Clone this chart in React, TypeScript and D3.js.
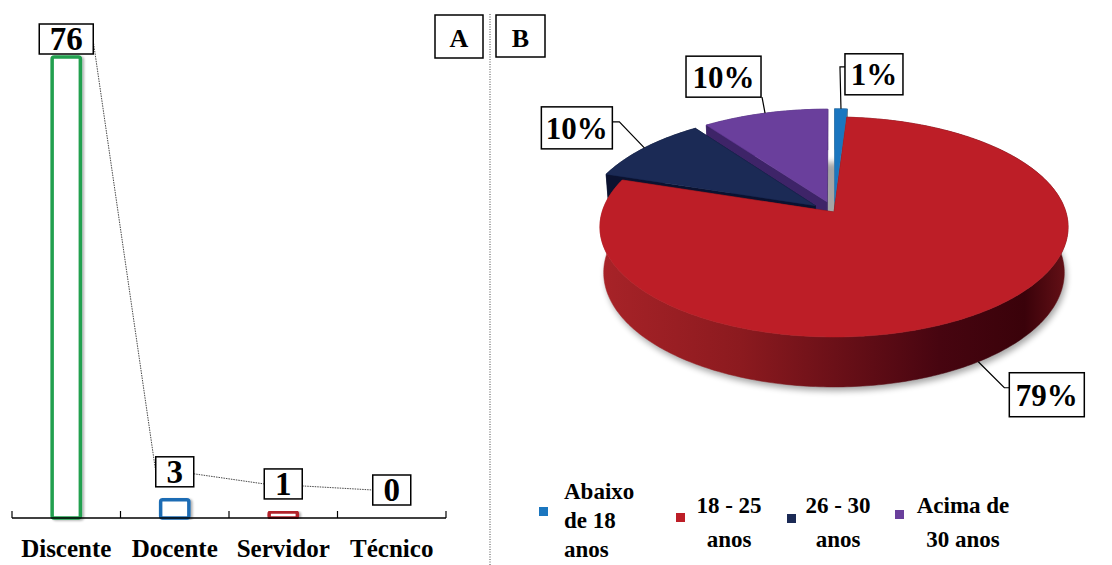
import React from 'react';
import * as d3 from 'd3';

// ---- Panel A: respondents by role ----
const roles = ['Discente', 'Docente', 'Servidor', 'Técnico'];
const roleCounts = [76, 3, 1, 0];
const roleColors = ['#22a04f', '#1f6cb4', '#b3222b', '#7f7f7f'];

// ---- Panel B: respondents by age group (%) ----
const ageGroups = ['Abaixo de 18 anos', '18 - 25 anos', '26 - 30 anos', 'Acima de 30 anos'];
const ageLegendLines = [['Abaixo', 'de 18', 'anos'], ['18 - 25', 'anos'], ['26 - 30', 'anos'], ['Acima de', '30 anos']];
const agePercents = [1, 79, 10, 10];
const ageColors = ['#1b76bf', '#bd1e27', '#1b2a55', '#6a3f9c'];
const ageWallColors = ['#5f7585', '#6e1015', '#0b1230', '#3e2468'];
const ageExplode = [0.1, 0, 0.1, 0.1];

const SERIF = "'Liberation Serif', 'DejaVu Serif', 'Times New Roman', serif";
const txt = { fontFamily: SERIF, fontWeight: 700 } as React.CSSProperties;

// perspective camera for the 3D pie
const PCX = 834;
const PCY = 212;
const F = 1505;
const DIST = 6.49;
const SIN_T = 0.4655;
const COS_T = 0.885;
const THICK = 0.224;

function proj(X: number, Y: number, Z: number): [number, number] {
  const d = DIST + Z * COS_T - Y * SIN_T;
  return [PCX + (F * X) / d, PCY - (F * (Y * COS_T + Z * SIN_T)) / d];
}
function depth(X: number, Y: number, Z: number) {
  return DIST + Z * COS_T - Y * SIN_T;
}
const toPath = (pts: [number, number][]) =>
  'M' + pts.map((p) => `${p[0].toFixed(2)},${p[1].toFixed(2)}`).join('L') + 'Z';

// label box placement relative to each slice's anchor point
const pieLabelLayout = [
  { bottom: false, box: [4, -55, 58, 41], path: [[0, 0], [-1, -42], [4, -42]] },
  { bottom: true, box: [31, 11, 75, 44], path: [[0, 0], [26, 26], [31, 26]] },
  { bottom: false, box: [-103, -41, 71, 42], path: [[0, 0], [-25, -26], [-32, -26]] },
  { bottom: false, box: [-79, -57, 75, 41], path: [[0, 0], [-3, -16]] },
];

// legend layout: swatch position, text anchor and baselines
const legendLayout = [
  { sq: [539, 507], tx: 564, anchor: 'start', ys: [499, 528, 557] },
  { sq: [676, 513], tx: 729, anchor: 'middle', ys: [513, 547] },
  { sq: [787, 514], tx: 838, anchor: 'middle', ys: [513, 547] },
  { sq: [895, 510], tx: 963, anchor: 'middle', ys: [513, 547] },
];

export default function App() {
  // ---------- bar chart ----------
  const x = d3.scaleBand<string>().domain(roles).range([12, 446]).paddingInner(0.74).paddingOuter(0.37);
  const y = d3.scaleLinear().domain([0, d3.max(roleCounts) as number]).range([518, 57]);
  const bw = x.bandwidth();
  const step = x.step();
  const boundaries = d3.range(roles.length + 1).map((i) => 12 + i * step);

  const valueBoxes = roles.map((r, i) => {
    const v = roleCounts[i];
    const label = String(v);
    const w = 16 * label.length + 22;
    const h = 30;
    const cx = (x(r) as number) + bw / 2;
    const top = Math.max(24, y(v) - 43);
    return { label, w, h, cx, top, left: cx - w / 2, right: cx + w / 2, mid: top + h / 2 };
  });

  // ---------- 3D pie ----------
  const arcs = d3.pie<number>().sort(null).value((d) => d)(agePercents);
  const walls: { d: string; fill: string; z: number }[] = [];
  const tops: { d: string; fill: string }[] = [];
  const anchors: [number, number][] = [];

  arcs.forEach((a, i) => {
    const mid = (a.startAngle + a.endAngle) / 2;
    const ox = ageExplode[i] * Math.sin(mid);
    const oz = ageExplode[i] * Math.cos(mid);
    const n = Math.max(3, Math.ceil((a.endAngle - a.startAngle) / 0.015));
    const angs = d3.range(n + 1).map((k) => a.startAngle + ((a.endAngle - a.startAngle) * k) / n);
    const rim = (t: number, Y: number): [number, number] => proj(ox + Math.sin(t), Y, oz + Math.cos(t));

    // outer curved wall
    const outer = [...angs.map((t) => rim(t, 0)), ...angs.slice().reverse().map((t) => rim(t, -THICK))];
    const zOuter = d3.mean(angs, (t) => depth(ox + Math.sin(t), -THICK / 2, oz + Math.cos(t))) as number;
    walls.push({ d: toPath(outer), fill: i === 1 ? 'url(#redSide)' : ageWallColors[i], z: zOuter });

    // radial walls
    [a.startAngle, a.endAngle].forEach((t) => {
      const pts: [number, number][] = [proj(ox, 0, oz), rim(t, 0), rim(t, -THICK), proj(ox, -THICK, oz)];
      const z = depth(ox + Math.sin(t) / 2, -THICK / 2, oz + Math.cos(t) / 2);
      walls.push({ d: toPath(pts), fill: ageWallColors[i], z });
    });

    // top face
    tops.push({ d: toPath([proj(ox, 0, oz), ...angs.map((t) => rim(t, 0))]), fill: ageColors[i] });

    anchors.push(rim(mid, pieLabelLayout[i].bottom ? -THICK : 0));
  });
  walls.sort((p, q) => q.z - p.z);

  const shadow = toPath(d3.range(0, 361, 2).map((deg) => {
    const t = (deg * Math.PI) / 180;
    return proj(Math.sin(t), -THICK, Math.cos(t));
  }));

  return (
    <svg width={1112} height={565} style={{ position: 'absolute', left: 0, top: 0, background: '#fff' }}>
      <defs>
        <filter id="barShadow" x="-50%" y="-10%" width="200%" height="120%">
          <feDropShadow dx="2" dy="1" stdDeviation="1.2" floodColor="#000" floodOpacity="0.3" />
        </filter>
        <filter id="pieShadow" x="-10%" y="-10%" width="120%" height="130%">
          <feGaussianBlur stdDeviation="3" />
        </filter>
        <linearGradient id="redSide" gradientUnits="userSpaceOnUse" x1={598} x2={1072} y1={0} y2={0}>
          <stop offset="0" stopColor="#a82328" />
          <stop offset="0.3" stopColor="#8c1a1f" />
          <stop offset="0.72" stopColor="#470510" />
          <stop offset="0.9" stopColor="#3a020a" />
          <stop offset="1" stopColor="#6a1218" />
        </linearGradient>
      </defs>

      {/* ---------- Panel A ---------- */}
      <g>
        {roles.map((r, i) =>
          roleCounts[i] > 0 ? (
            <rect
              key={r}
              x={x(r)}
              y={y(roleCounts[i])}
              width={bw}
              height={y(0) - y(roleCounts[i])}
              rx={2}
              fill="#fff"
              stroke={roleColors[i]}
              strokeWidth={3.5}
              filter="url(#barShadow)"
            />
          ) : null
        )}

        {/* category axis */}
        <line x1={boundaries[0]} x2={boundaries[boundaries.length - 1]} y1={y(0)} y2={y(0)} stroke="#000" strokeWidth={1.5} />
        {boundaries.map((bx, i) => (
          <line key={i} x1={bx} x2={bx} y1={y(0)} y2={y(0) - 7} stroke="#000" strokeWidth={1.2} />
        ))}
        {roles.map((r) => (
          <text key={r} x={(x(r) as number) + bw / 2} y={557} textAnchor="middle" style={{ ...txt, fontSize: 25 }}>
            {r}
          </text>
        ))}

        {/* leader lines between value labels */}
        {valueBoxes.slice(0, -1).map((b, i) => {
          const nb = valueBoxes[i + 1];
          return (
            <line key={i} x1={b.right} y1={b.mid + 2} x2={nb.left} y2={nb.mid} stroke="#333" strokeWidth={0.9} strokeDasharray="1.5,1" />
          );
        })}
        {valueBoxes.map((b, i) => (
          <g key={i}>
            <rect x={b.left} y={b.top} width={b.w} height={b.h} fill="#fff" stroke="#000" strokeWidth={1.5} />
            <text x={b.cx} y={b.top + 26} textAnchor="middle" style={{ ...txt, fontSize: 33 }}>
              {b.label}
            </text>
          </g>
        ))}

        <rect x={435} y={15} width={48} height={43} fill="#fff" stroke="#000" strokeWidth={1.5} />
        <text x={459} y={47} textAnchor="middle" style={{ ...txt, fontSize: 26 }}>A</text>
      </g>

      {/* separator */}
      <line x1={490} x2={490} y1={14} y2={565} stroke="#444" strokeWidth={1} strokeDasharray="1,1.5" />

      {/* ---------- Panel B ---------- */}
      <g>
        <rect x={496} y={15} width={49} height={42} fill="#fff" stroke="#000" strokeWidth={1.5} />
        <text x={520.5} y={47} textAnchor="middle" style={{ ...txt, fontSize: 26 }}>B</text>

        <path d={shadow} transform="translate(2,4)" fill="#000" opacity={0.35} filter="url(#pieShadow)" />
        {walls.map((w, i) => (
          <path key={'w' + i} d={w.d} fill={w.fill} stroke={w.fill} strokeWidth={0.5} strokeLinejoin="round" />
        ))}
        {tops.map((t, i) => (
          <path key={'t' + i} d={t.d} fill={t.fill} stroke={t.fill} strokeWidth={0.5} strokeLinejoin="round" />
        ))}

        {arcs.map((a, i) => {
          const [ax, ay] = anchors[i];
          const L = pieLabelLayout[i];
          const [bx, by, bwid, bh] = L.box;
          const pts = L.path.map(([dx, dy]) => `${ax + dx},${ay + dy}`).join(' ');
          return (
            <g key={'l' + i}>
              <polyline points={pts} fill="none" stroke="#000" strokeWidth={1.2} />
              <rect x={ax + bx} y={ay + by} width={bwid} height={bh} fill="#fff" stroke="#000" strokeWidth={1.5} />
              <text x={ax + bx + bwid / 2} y={ay + by + bh / 2 + 11} textAnchor="middle" style={{ ...txt, fontSize: 31 }}>
                {`${agePercents[i]}%`}
              </text>
            </g>
          );
        })}

        {/* legend */}
        {ageGroups.map((g, i) => {
          const L = legendLayout[i];
          return (
            <g key={g}>
              <rect x={L.sq[0]} y={L.sq[1]} width={9} height={9} fill={ageColors[i]} />
              <text textAnchor={L.anchor as any} style={{ ...txt, fontSize: 23 }}>
                {ageLegendLines[i].map((line, k) => (
                  <tspan key={k} x={L.tx} y={L.ys[k]}>{line}</tspan>
                ))}
              </text>
            </g>
          );
        })}
      </g>
    </svg>
  );
}
